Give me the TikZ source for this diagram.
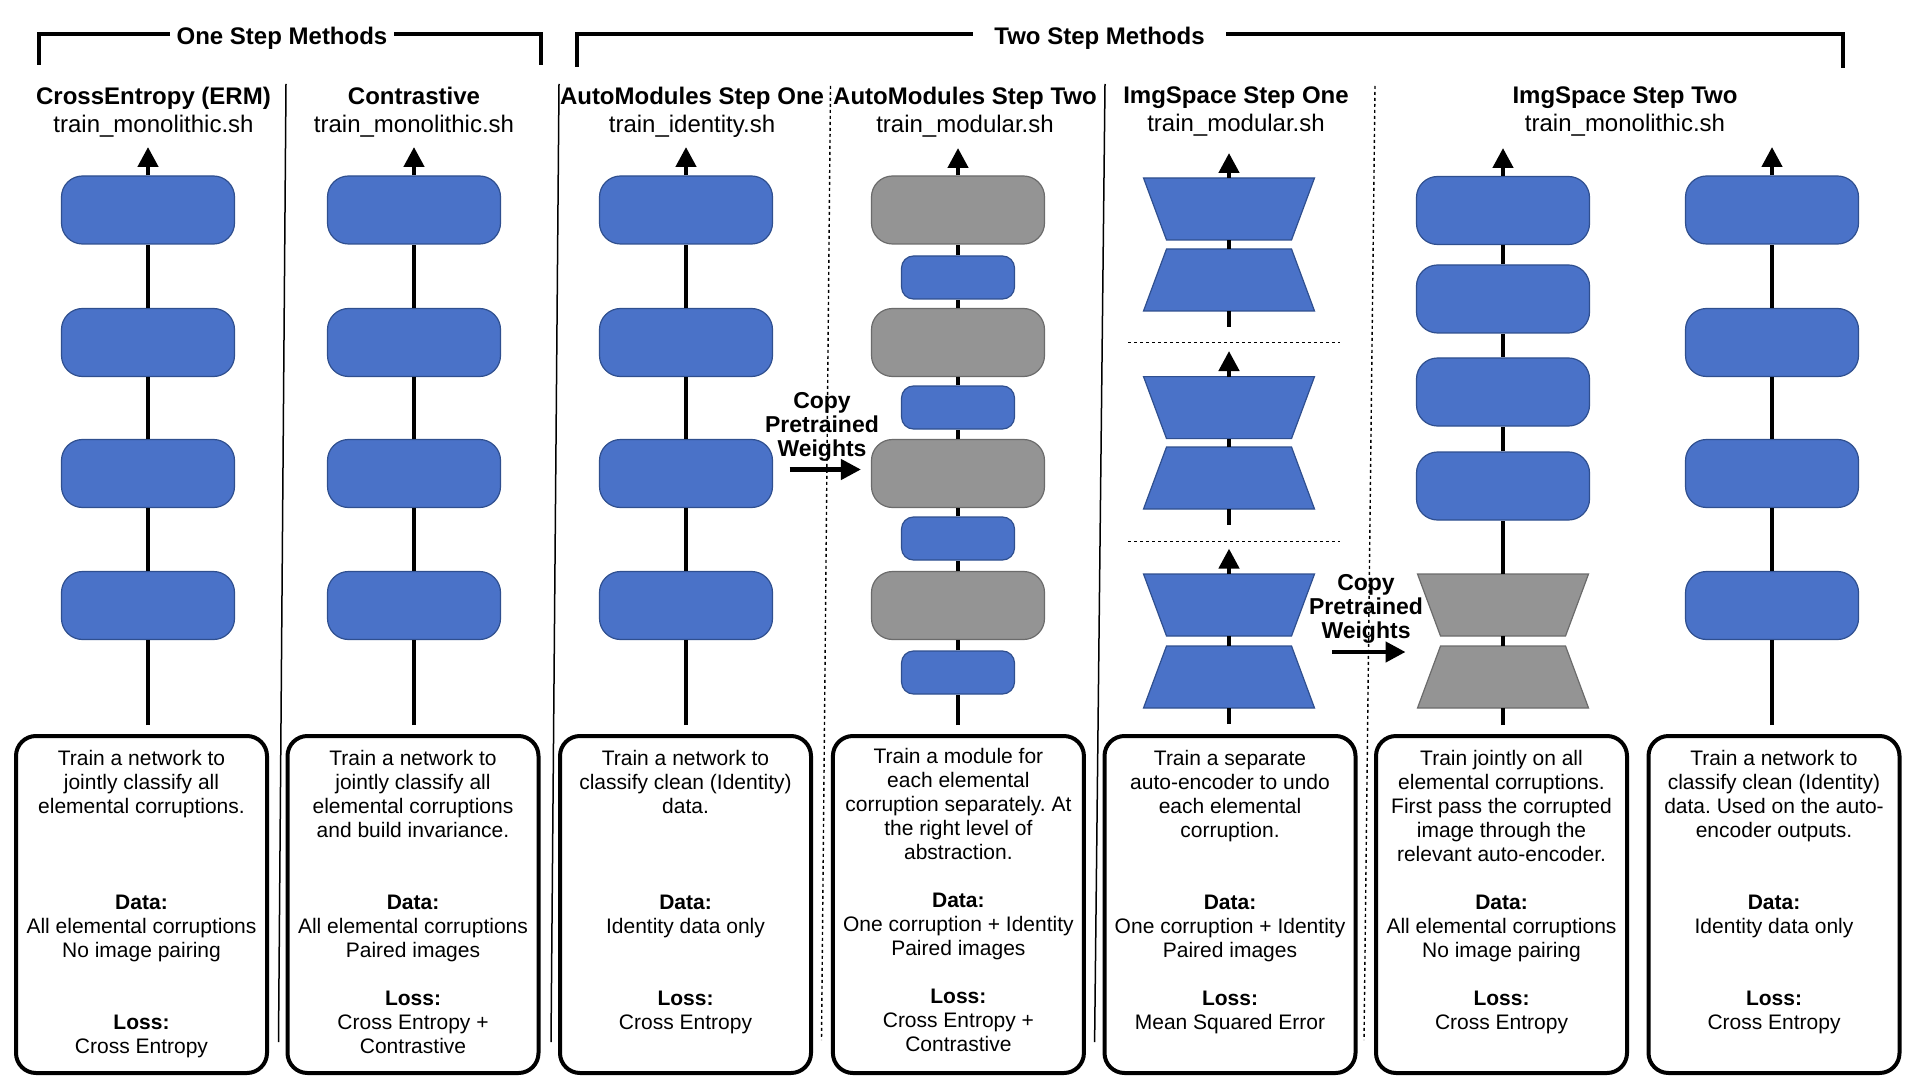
\documentclass[tikz,border=0pt]{standalone}
\usepackage{fontspec}
\setmainfont{Liberation Sans}
\frenchspacing
\usetikzlibrary{positioning, arrows.meta}

\definecolor{blockblue}{HTML}{4A72C8}
\definecolor{blockedge}{HTML}{2F4F8F}
\definecolor{frozengray}{HTML}{949494}
\definecolor{frozenline}{HTML}{6B6B6B}

\tikzset{
  every block/.style={rounded corners=10.5pt, minimum width=86.5pt, minimum height=34pt, inner sep=0pt, line width=0.6pt},
  block/.style={every block, draw=blockedge, fill=blockblue},
  small block/.style={block, rounded corners=6pt, minimum width=56.5pt, minimum height=21.5pt},
  frozen/.style={draw=frozenline, fill=frozengray},
  trapbox/.style={minimum width=85.5pt, minimum height=31pt, inner sep=0pt, outer sep=0pt},
  aeshape/.style={line width=0.6pt, draw=blockedge, fill=blockblue},
  stem/.style={line width=2.25pt},
  copyarrow/.style={line width=2.25pt, ->},
  copytext/.style={align=center, inner sep=3pt, font=\bfseries\fontsize{11.5pt}{12pt}\selectfont},
  textbox/.style={draw, line width=2pt, rounded corners=10pt, minimum width=125.5pt, minimum height=168.5pt, inner sep=0pt},
  boxtext/.style={align=center, inner sep=0pt, font=\fontsize{10.5pt}{12pt}\selectfont},
  title/.style={align=center, inner sep=0pt, font=\fontsize{12pt}{14pt}\selectfont},
  bracket/.style={line width=2pt},
  brlabel/.style={fill=white, inner ysep=2pt, font=\bfseries\fontsize{12pt}{14pt}\selectfont},
  sepline/.style={line width=0.75pt},
  sepdash/.style={line width=0.7pt, dash pattern=on 1.5pt off 1.5pt}
}

\begin{document}
\begin{tikzpicture}[x=0.5pt, y=-0.5pt, >={Triangle[length=10pt, width=10pt]}]
\useasboundingbox (0,0) rectangle (1920,1080);

% brackets
\draw[bracket] (38.6,65) |- (541,34) -- (541,65);
\node[brlabel, inner xsep=3.5pt] (one-step) at (282,38) {One Step Methods};
\draw[bracket] (576.5,67) |- (1843,34) -- (1843,68);
\node[brlabel, inner xsep=10.5pt] (two-step) at (1099.5,38) {Two Step Methods};

% separators
\foreach \xa/\xb in {286/278.5, 559/551, 1105/1094.6}
  \draw[sepline] (\xa,84) -- (\xb,1042);
\foreach \xa/\xb in {830.5/821.5, 1375/1364}
  \draw[sepdash] (\xa,86) -- (\xb,1040);
\foreach \yy in {342.5,541.7}
  \draw[sepdash] (1128,\yy) -- (1340,\yy);

% titles
\node[title] (ce-title) at (153.5,112) {\textbf{CrossEntropy (ERM)}\\train\_monolithic.sh};
\node[title] (con-title) at (414,112) {\textbf{Contrastive}\\train\_monolithic.sh};
\node[title] (am1-title) at (692,112) {\textbf{AutoModules Step One}\\train\_identity.sh};
\node[title] (am2-title) at (965,112) {\textbf{AutoModules Step Two}\\train\_modular.sh};
\node[title] (is1-title) at (1236,112) {\textbf{ImgSpace Step One}\\train\_modular.sh};
\node[title] (is2-title) at (1625,112) {\textbf{ImgSpace Step Two}\\train\_monolithic.sh};

% text boxes
\foreach \c/\x in {ce/141.5, con/413, am1/685.5, am2/958.4, is1/1230, is2/1501.5, cls/1774}
  \node[textbox] (\c-box) at (\x,904.5) {};

\node[boxtext, below=7.75pt of ce-box.north] (ce-txt) {Train a network to\\jointly classify all\\elemental corruptions.\\[36pt]\textbf{Data:}\\All elemental corruptions\\No image pairing\\[24pt]\textbf{Loss:}\\Cross Entropy};
\node[boxtext, below=7.75pt of con-box.north] (con-txt) {Train a network to\\jointly classify all\\elemental corruptions\\and build invariance.\\[24pt]\textbf{Data:}\\All elemental corruptions\\Paired images\\[12pt]\textbf{Loss:}\\Cross Entropy +\\Contrastive};
\node[boxtext, below=7.75pt of am1-box.north] (am1-txt) {Train a network to\\classify clean (Identity)\\data.\\[36pt]\textbf{Data:}\\Identity data only\\[24pt]\textbf{Loss:}\\Cross Entropy};
\node[boxtext, below=6.75pt of am2-box.north] (am2-txt) {Train a module for\\each elemental\\corruption separately. At\\the right level of\\abstraction.\\[12pt]\textbf{Data:}\\One corruption + Identity\\Paired images\\[12pt]\textbf{Loss:}\\Cross Entropy +\\Contrastive};
\node[boxtext, below=7.75pt of is1-box.north] (is1-txt) {Train a separate\\auto-encoder to undo\\each elemental\\corruption.\\[24pt]\textbf{Data:}\\One corruption + Identity\\Paired images\\[12pt]\textbf{Loss:}\\Mean Squared Error};
\node[boxtext, below=7.75pt of is2-box.north] (is2-txt) {Train jointly on all\\elemental corruptions.\\First pass the corrupted\\image through the\\relevant auto-encoder.\\[12pt]\textbf{Data:}\\All elemental corruptions\\No image pairing\\[12pt]\textbf{Loss:}\\Cross Entropy};
\node[boxtext, below=7.75pt of cls-box.north] (cls-txt) {Train a network to\\classify clean (Identity)\\data. Used on the auto-\\encoder outputs.\\[24pt]\textbf{Data:}\\Identity data only\\[24pt]\textbf{Loss:}\\Cross Entropy};

% plain networks
\foreach \c/\x in {ce/148, con/414, am1/686, cls/1772} {
  \foreach \yy [count=\i] in {210,342.5,473.5,605.5}
    \node[block] (\c-\i) at (\x,\yy) {};
  \coordinate (\c-out) at (\x,147);
  \draw[stem, shorten <=4.5pt] (\c-4 |- \c-box.north) -- (\c-4);
  \foreach \i/\j in {4/3,3/2,2/1}
    \draw[stem] (\c-\i) -- (\c-\j);
  \draw[stem, ->] (\c-1) -- (\c-out);
}

% modular network
\foreach \yy [count=\i] in {210,342.5,473.5,605.5}
  \node[block, frozen] (am2-\i) at (958,\yy) {};
\foreach \yy [count=\i] in {277.5,407.5,538.5,672.5}
  \node[small block] (am2-s\i) at (958,\yy) {};
\coordinate (am2-out) at (958,148);
\draw[stem, shorten <=4.5pt] (am2-s4 |- am2-box.north) -- (am2-s4);
\foreach \i in {1,...,4}
  \draw[stem] (am2-s\i) -- (am2-\i);
\foreach \i/\j in {4/3,3/2,2/1}
  \draw[stem] (am2-\i) -- (am2-s\j);
\draw[stem, ->] (am2-1) -- (am2-out);

% auto-encoders
\foreach \ya/\yb/\yo/\yi [count=\k] in {209/280/153/327, 407.6/478/351/524.6, 605/677/548.6/724} {
  \node[trapbox] (is1-a\k) at (1229,\ya) {};
  \node[trapbox] (is1-b\k) at (1229,\yb) {};
  \coordinate (is1-out\k) at (1229,\yo);
  \coordinate (is1-in\k) at (1229,\yi);
  \filldraw[aeshape] (is1-a\k.north west) -- (is1-a\k.north east) -- ([xshift=-11.5pt]is1-a\k.south east) -- ([xshift=11.5pt]is1-a\k.south west) -- cycle;
  \filldraw[aeshape] ([xshift=11.5pt]is1-b\k.north west) -- ([xshift=-11.5pt]is1-b\k.north east) -- (is1-b\k.south east) -- (is1-b\k.south west) -- cycle;
  \draw[stem] (is1-in\k) -- (is1-b\k);
  \draw[stem] (is1-b\k) -- (is1-a\k);
  \draw[stem, ->] (is1-a\k) -- (is1-out\k);
}

% auto-encoder + classifier
\foreach \yy [count=\i] in {210.5,299,392,486}
  \node[block] (is2-\i) at (1503,\yy) {};
\node[trapbox] (is2-a) at (1503,605) {};
\node[trapbox] (is2-b) at (1503,677) {};
\filldraw[aeshape, frozen] (is2-a.north west) -- (is2-a.north east) -- ([xshift=-11.5pt]is2-a.south east) -- ([xshift=11.5pt]is2-a.south west) -- cycle;
\filldraw[aeshape, frozen] ([xshift=11.5pt]is2-b.north west) -- ([xshift=-11.5pt]is2-b.north east) -- (is2-b.south east) -- (is2-b.south west) -- cycle;
\coordinate (is2-out) at (1503,148);
\draw[stem, shorten <=4.5pt] (is2-b |- is2-box.north) -- (is2-b);
\draw[stem] (is2-b) -- (is2-a);
\draw[stem] (is2-a) -- (is2-4);
\foreach \i/\j in {4/3,3/2,2/1}
  \draw[stem] (is2-\i) -- (is2-\j);
\draw[stem, ->] (is2-1) -- (is2-out);

% weight copies
\draw[copyarrow, shorten <=8.25pt, shorten >=5pt] ([yshift=2pt]am1-3.east) -- ([yshift=2pt]am2-3.west)
  node[copytext, midway, above] {Copy\\Pretrained\\Weights};
\draw[copyarrow, shorten <=8.75pt, shorten >=6pt] ([yshift=-3pt]is1-b3.north east) -- ([yshift=-3pt]is2-b.north west)
  node[copytext, midway, above] {Copy\\Pretrained\\Weights};

\end{tikzpicture}
\end{document}
